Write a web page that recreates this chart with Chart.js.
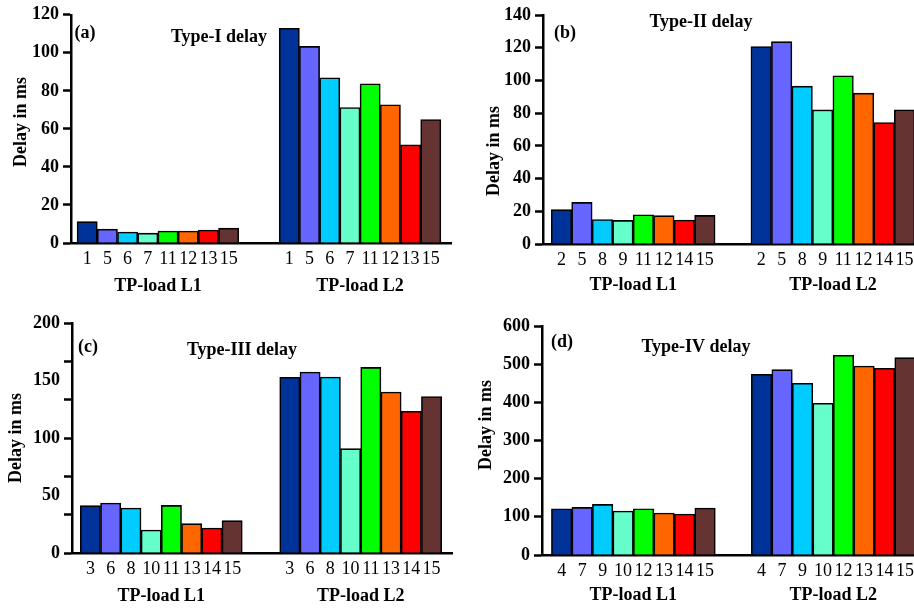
<!DOCTYPE html>
<html>
<head>
<meta charset="utf-8">
<script src="https://cdn.jsdelivr.net/npm/chart.js@4/dist/chart.umd.min.js"></script>
<style>
  html, body { margin: 0; padding: 0; background: #fff; overflow: hidden; }
  body { width: 914px; height: 608px; position: relative; }
  canvas { position: absolute; }
</style>
</head>
<body>
<canvas id="panel-a" width="457" height="304" style="left:0;top:0"></canvas>
<canvas id="panel-b" width="470" height="304" style="left:457px;top:0"></canvas>
<canvas id="panel-c" width="457" height="304" style="left:0;top:304px"></canvas>
<canvas id="panel-d" width="470" height="304" style="left:457px;top:304px"></canvas>
<script>
(function () {
  "use strict";

  // ─── Data ──────────────────────────────────────────────────────────────────

  const groupLabels = ["TP-load L1", "TP-load L2"];
  const barColors = ["#003399", "#6666FF", "#00CCFF", "#66FFCC", "#00FF00", "#FF6600", "#FF0000", "#663333"];

  const nodesI = [1, 5, 6, 7, 11, 12, 13, 15];
  const typeI_L1 = [11.2, 7.3, 5.8, 5.2, 6.3, 6.3, 6.8, 7.8];
  const typeI_L2 = [112.9, 103.4, 86.9, 71.2, 83.7, 72.7, 51.6, 64.9];
  const ticksI = [0, 20, 40, 60, 80, 100, 120];

  const nodesII = [2, 5, 8, 9, 11, 12, 14, 15];
  const typeII_L1 = [21.0, 25.4, 15.0, 14.4, 17.9, 17.3, 14.7, 17.5];
  const typeII_L2 = [120.7, 123.7, 96.5, 82.0, 102.8, 92.2, 74.3, 82.0];
  const ticksII = [0, 20, 40, 60, 80, 100, 120, 140];

  const nodesIII = [3, 6, 8, 10, 11, 13, 14, 15];
  const typeIII_L1 = [41.2, 43.5, 39.1, 20.0, 41.4, 25.5, 21.7, 28.1];
  const typeIII_L2 = [152.8, 157.4, 153.0, 90.7, 161.4, 140.0, 123.2, 136.0];
  const ticksIII = [0, 50, 100, 150, 200];
  const marksIII = [0, 33.3, 66.7, 100, 133.3, 166.7, 200]; // tick marks don't line up with labels in the original

  const nodesIV = [4, 7, 9, 10, 12, 13, 14, 15];
  const typeIV_L1 = [121.2, 124.7, 132.6, 115.1, 121.2, 109.9, 107.3, 123.0];
  const typeIV_L2 = [473.5, 485.7, 450.0, 397.7, 523.3, 495.3, 489.2, 517.0];
  const ticksIV = [0, 100, 200, 300, 400, 500, 600];

  // ─── Style ─────────────────────────────────────────────────────────────────

  const SERIF = '"Liberation Serif", "Times New Roman", serif';
  const BOLD = "bold 18px " + SERIF;

  // free text on top of the chart: panel letter, title, y title, group labels
  const panelText = {
    id: "panelText",
    afterDraw(chart, args, opts) {
      const ctx = chart.ctx;
      const xs = chart.scales.x;
      const items = (opts.items || []).slice();
      (opts.groups || []).forEach((g) => {
        items.push({ text: g.text, x: xs.getPixelForValue(g.at), y: chart.chartArea.bottom + opts.groupDy });
      });
      items.forEach((t) => {
        ctx.save();
        ctx.translate(t.x, t.y);
        if (t.rotate) ctx.rotate(t.rotate);
        ctx.font = BOLD;
        ctx.fillStyle = "#000";
        ctx.textAlign = "center";
        ctx.textBaseline = "middle";
        ctx.fillText(t.text, 0, 0);
        ctx.restore();
      });
    },
  };

  // ─── Panel builder ─────────────────────────────────────────────────────────

  function makePanel(p) {
    const pos1 = p.nodes.map((_, i) => i);
    const pos2 = p.nodes.map((_, i) => p.l2Start + i);
    const positions = pos1.concat(pos2);
    const values = p.l1.concat(p.l2);
    const catLabels = p.nodes.concat(p.nodes).map(String);
    const marks = p.marks || p.yTicks;
    const allY = Array.from(new Set(p.yTicks.concat(marks))).sort((a, b) => a - b);

    new Chart(document.getElementById(p.id), {
      type: "bar",
      data: {
        datasets: [
          {
            data: positions.map((x, i) => ({ x: x, y: values[i] })),
            backgroundColor: barColors.concat(barColors),
            borderColor: "#000",
            borderWidth: 1.6,
            barPercentage: 1,
            categoryPercentage: 1,
          },
        ],
      },
      options: {
        responsive: false,
        animation: false,
        devicePixelRatio: 1,
        layout: { padding: p.pad },
        plugins: {
          legend: { display: false },
          tooltip: { enabled: false },
          panelText: {
            items: p.texts,
            groupDy: p.groupDy,
            groups: [
              { text: groupLabels[0], at: 3.5 },
              { text: groupLabels[1], at: p.l2Start + 3.5 },
            ],
          },
        },
        scales: {
          x: {
            type: "linear",
            min: p.xMin,
            max: p.xMax,
            offset: false,
            afterBuildTicks: (s) => { s.ticks = positions.map((v) => ({ value: v })); },
            afterFit: (s) => { s.height = 58; },
            grid: { display: false, drawTicks: false, offset: false },
            border: { display: true, color: "#000", width: 2.5 },
            ticks: {
              autoSkip: false,
              maxRotation: 0,
              padding: 5,
              color: "#000",
              font: { family: SERIF, size: 18 },
              callback: (v, i) => catLabels[i],
            },
          },
          y: {
            min: 0,
            max: p.yMax,
            afterBuildTicks: (s) => { s.ticks = allY.map((v) => ({ value: v })); },
            afterFit: (s) => { s.width = p.yWidth; },
            grid: {
              drawOnChartArea: false,
              drawTicks: true,
              tickLength: 8,
              tickWidth: 2.5,
              tickColor: (ctx) => (marks.includes(ctx.tick && ctx.tick.value) ? "#000" : "rgba(0,0,0,0)"),
            },
            border: { display: true, color: "#000", width: 2.5 },
            ticks: {
              padding: 4,
              color: "#000",
              font: { family: SERIF, size: 18, weight: "bold" },
              callback: (v) => (p.yTicks.includes(v) ? String(v) : ""),
            },
          },
        },
      },
      plugins: [panelText],
    });
  }

  // ─── Init ──────────────────────────────────────────────────────────────────

  const ROT = -Math.PI / 2;

  makePanel({
    id: "panel-a", nodes: nodesI, l1: typeI_L1, l2: typeI_L2,
    yTicks: ticksI, yMax: 120, yWidth: 71,
    xMin: -0.8, xMax: 18.0, l2Start: 10, groupDy: 43,
    pad: { left: 0, top: 14, right: 6, bottom: 3 },
    texts: [
      { text: "(a)", x: 85, y: 33 },
      { text: "Type-I delay", x: 219, y: 37 },
      { text: "Delay in ms", x: 21, y: 122, rotate: ROT },
    ],
  });

  makePanel({
    id: "panel-b", nodes: nodesII, l1: typeII_L1, l2: typeII_L2,
    yTicks: ticksII, yMax: 140, yWidth: 86,
    xMin: -0.9, xMax: 17.6, l2Start: 9.75, groupDy: 41,
    pad: { left: 0, top: 15, right: 5, bottom: 2 },
    texts: [
      { text: "(b)", x: 108, y: 33 },
      { text: "Type-II delay", x: 244, y: 22 },
      { text: "Delay in ms", x: 37, y: 151, rotate: ROT },
    ],
  });

  makePanel({
    id: "panel-c", nodes: nodesIII, l1: typeIII_L1, l2: typeIII_L2,
    yTicks: ticksIII, marks: marksIII, yMax: 200, yWidth: 72,
    xMin: -0.91, xMax: 17.86, l2Start: 9.85, groupDy: 43,
    pad: { left: 0, top: 19, right: 5, bottom: -3 },
    texts: [
      { text: "(c)", x: 88, y: 43 },
      { text: "Type-III delay", x: 242, y: 46 },
      { text: "Delay in ms", x: 16, y: 134, rotate: ROT },
    ],
  });

  makePanel({
    id: "panel-d", nodes: nodesIV, l1: typeIV_L1, l2: typeIV_L2,
    yTicks: ticksIV, yMax: 600, yWidth: 85,
    xMin: -0.96, xMax: 17.59, l2Start: 9.76, groupDy: 40,
    pad: { left: 0, top: 22, right: 5, bottom: -5 },
    texts: [
      { text: "(d)", x: 105, y: 38 },
      { text: "Type-IV delay", x: 239, y: 43 },
      { text: "Delay in ms", x: 29, y: 121, rotate: ROT },
    ],
  });
})();
</script>
</body>
</html>
